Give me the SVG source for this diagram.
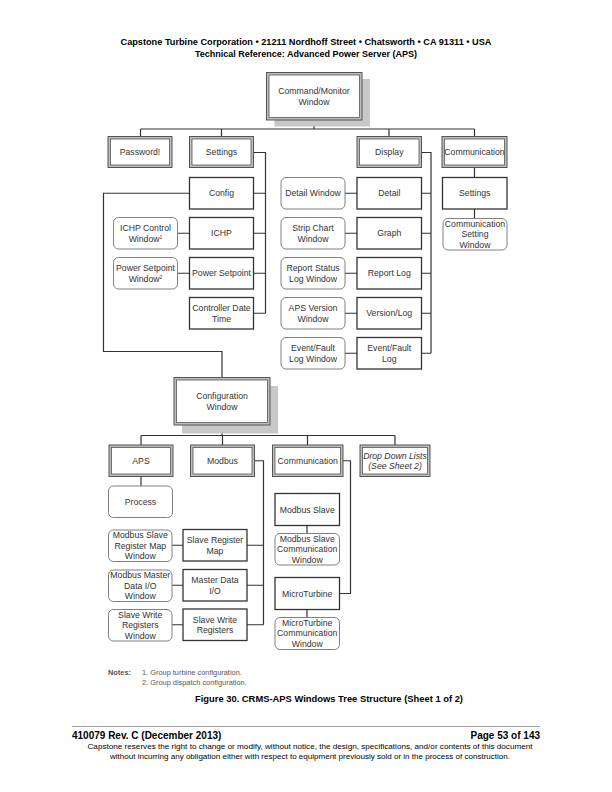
<svg xmlns="http://www.w3.org/2000/svg" width="612" height="792" viewBox="0 0 612 792">
<style>
.t{font-family:"Liberation Sans",Arial,sans-serif;font-size:8.7px;fill:#333;text-anchor:middle}
.ti{font-style:italic}
.h{font-family:"Liberation Sans",Arial,sans-serif;font-weight:bold;fill:#000;text-anchor:middle}
.ln{stroke:#333;stroke-width:1.2;fill:none}
.dbo{fill:#bdbdbd;stroke:#555;stroke-width:1}
.dbi{fill:#fff;stroke:#555;stroke-width:0.8}
.pl{fill:#fff;stroke:#333;stroke-width:1.3}
.rw{fill:#fff;stroke:#808080;stroke-width:1}
.sh{fill:#c8c8c8}
.n{font-family:"Liberation Sans",Arial,sans-serif;font-size:7.4px;fill:#555}
</style>
<rect width="612" height="792" fill="#fff"/>
<text class="h" x="306" y="45" font-size="9" textLength="371" lengthAdjust="spacingAndGlyphs">Capstone Turbine Corporation • 21211 Nordhoff Street • Chatsworth • CA 91311 • USA</text>
<text class="h" x="306" y="56.5" font-size="9" textLength="222" lengthAdjust="spacingAndGlyphs">Technical Reference: Advanced Power Server (APS)</text>

<g id="connectors">
<path class="ln" d="M314,120V129M140.5,129H474.5M140.5,129V136.5M221.5,129V136.5M389,129V136.5M474.5,129V136.5"/>
<path class="ln" d="M253.5,152.5H265.5V313.25M253.5,193.25H265.5M253.5,233.25H265.5M253.5,273.25H265.5M253.5,313.25H265.5"/>
<path class="ln" d="M189.5,193.25H103.5V351.5H222V377.5"/>
<path class="ln" d="M177.5,233.25H189.5M177.5,273.25H189.5"/>
<path class="ln" d="M421.5,152.5H431V353.25M421.5,193.25H431M421.5,233.25H431M421.5,273.25H431M421.5,313.25H431M421.5,353.25H431"/>
<path class="ln" d="M345,193.25H357M345,233.25H357M345,273.25H357M345,313.25H357M345,353.25H357"/>
<path class="ln" d="M474.5,167.5V177.5M474.5,209V218.5"/>
<path class="ln" d="M222,425V435.5M141,435.5H395M141,435.5V445M222.5,435.5V445M307.5,435.5V445M395,435.5V445"/>
<path class="ln" d="M141,476.5V486"/>
<path class="ln" d="M254,460.75H263.5V624.75M247,545.25H263.5M247,585.25H263.5M247,624.75H263.5"/>
<path class="ln" d="M172,545.25H183M172,585.25H183M172,624.75H183"/>
<path class="ln" d="M343,460.75H350.5V593.5H339.5"/>
<path class="ln" d="M307,525.5V533.5M307,609.5V617.5"/>
</g>

<g id="command-monitor-window">
<rect class="sh" x="274.5" y="79" width="95.5" height="47.5"/>
<rect class="dbo" x="266.5" y="72.5" width="95.5" height="47.5"/>
<rect class="dbi" x="269" y="75" width="90.5" height="42.5"/>
<text class="t" x="314" y="93.5">Command/Monitor</text>
<text class="t" x="314" y="104.5">Window</text>
</g>

<g id="password">
<rect class="dbo" x="108" y="136.5" width="64" height="31"/>
<rect class="dbi" x="110.5" y="139" width="59" height="26"/>
<text class="t" x="140" y="155">Password!</text>
</g>
<g id="settings">
<rect class="dbo" x="189.5" y="136.5" width="64" height="31"/>
<rect class="dbi" x="192" y="139" width="59" height="26"/>
<text class="t" x="221.5" y="155">Settings</text>
</g>
<g id="display">
<rect class="dbo" x="357" y="136.5" width="64.5" height="31"/>
<rect class="dbi" x="359.5" y="139" width="59.5" height="26"/>
<text class="t" x="389.25" y="155">Display</text>
</g>
<g id="communication">
<rect class="dbo" x="442" y="136.5" width="65" height="31"/>
<rect class="dbi" x="444.5" y="139" width="60" height="26"/>
<text class="t" x="474.5" y="155">Communication</text>
</g>

<g id="config">
<rect class="pl" x="189.5" y="177.5" width="64" height="31.5"/>
<text class="t" x="221.5" y="196.25">Config</text>
</g>
<g id="ichp">
<rect class="pl" x="189.5" y="217.5" width="64" height="31.5"/>
<text class="t" x="221.5" y="236.25">ICHP</text>
</g>
<g id="power-setpoint">
<rect class="pl" x="189.5" y="257.5" width="64" height="31.5"/>
<text class="t" x="221.5" y="276.25">Power Setpoint</text>
</g>
<g id="controller-date-time">
<rect class="pl" x="189.5" y="297.5" width="64" height="31.5"/>
<text class="t" x="221.5" y="311">Controller Date</text>
<text class="t" x="221.5" y="321.75">Time</text>
</g>
<g id="ichp-control-window">
<rect class="rw" x="113.5" y="217.5" width="64" height="31.5" rx="5"/>
<text class="t" x="145.5" y="231">ICHP Control</text>
<text class="t" x="145.5" y="241.75">Window<tspan dy="-3" font-size="5">1</tspan></text>
</g>
<g id="power-setpoint-window">
<rect class="rw" x="113.5" y="257.5" width="64" height="31.5" rx="5"/>
<text class="t" x="145.5" y="271">Power Setpoint</text>
<text class="t" x="145.5" y="281.75">Window<tspan dy="-3" font-size="5">2</tspan></text>
</g>

<g id="detail">
<rect class="pl" x="357" y="177.5" width="64.5" height="31.5"/>
<text class="t" x="389.25" y="196.25">Detail</text>
</g>
<g id="graph">
<rect class="pl" x="357" y="217.5" width="64.5" height="31.5"/>
<text class="t" x="389.25" y="236.25">Graph</text>
</g>
<g id="report-log">
<rect class="pl" x="357" y="257.5" width="64.5" height="31.5"/>
<text class="t" x="389.25" y="276.25">Report Log</text>
</g>
<g id="version-log">
<rect class="pl" x="357" y="297.5" width="64.5" height="31.5"/>
<text class="t" x="389.25" y="316.25">Version/Log</text>
</g>
<g id="event-fault-log">
<rect class="pl" x="357" y="337.5" width="64.5" height="31.5"/>
<text class="t" x="389.25" y="351">Event/Fault</text>
<text class="t" x="389.25" y="361.75">Log</text>
</g>
<g id="detail-window">
<rect class="rw" x="281" y="177.5" width="64" height="31.5" rx="5"/>
<text class="t" x="313" y="196.25">Detail Window</text>
</g>
<g id="strip-chart-window">
<rect class="rw" x="281" y="217.5" width="64" height="31.5" rx="5"/>
<text class="t" x="313" y="231">Strip Chart</text>
<text class="t" x="313" y="241.75">Window</text>
</g>
<g id="report-status-log-window">
<rect class="rw" x="281" y="257.5" width="64" height="31.5" rx="5"/>
<text class="t" x="313" y="271">Report Status</text>
<text class="t" x="313" y="281.75">Log Window</text>
</g>
<g id="aps-version-window">
<rect class="rw" x="281" y="297.5" width="64" height="31.5" rx="5"/>
<text class="t" x="313" y="311">APS Version</text>
<text class="t" x="313" y="321.75">Window</text>
</g>
<g id="event-fault-log-window">
<rect class="rw" x="281" y="337.5" width="64" height="31.5" rx="5"/>
<text class="t" x="313" y="351">Event/Fault</text>
<text class="t" x="313" y="361.75">Log Window</text>
</g>

<g id="comm-settings">
<rect class="pl" x="442.5" y="177.5" width="64.5" height="31.5"/>
<text class="t" x="474.75" y="196.25">Settings</text>
</g>
<g id="communication-setting-window">
<rect class="rw" x="443" y="218.5" width="64" height="31.5" rx="5"/>
<text class="t" x="475" y="226.5">Communication</text>
<text class="t" x="475" y="237">Setting</text>
<text class="t" x="475" y="247.5">Window</text>
</g>

<g id="configuration-window">
<rect class="sh" x="182" y="386" width="96" height="47.5"/>
<rect class="dbo" x="174" y="377.5" width="96" height="47.5"/>
<rect class="dbi" x="176.5" y="380" width="91" height="42.5"/>
<text class="t" x="222" y="398.5">Configuration</text>
<text class="t" x="222" y="409.5">Window</text>
</g>

<g id="aps">
<rect class="dbo" x="109" y="445" width="64" height="31.5"/>
<rect class="dbi" x="111.5" y="447.5" width="59" height="26.5"/>
<text class="t" x="141" y="463.75">APS</text>
</g>
<g id="modbus">
<rect class="dbo" x="190.5" y="445" width="64" height="31.5"/>
<rect class="dbi" x="193" y="447.5" width="59" height="26.5"/>
<text class="t" x="222.5" y="463.75">Modbus</text>
</g>
<g id="config-communication">
<rect class="dbo" x="272.5" y="445" width="70.5" height="31.5"/>
<rect class="dbi" x="275" y="447.5" width="65.5" height="26.5"/>
<text class="t" x="307.75" y="463.75">Communication</text>
</g>
<g id="drop-down-lists">
<rect class="dbo" x="360" y="445" width="70" height="31.5"/>
<rect class="dbi" x="362.5" y="447.5" width="65" height="26.5"/>
<text class="t ti" x="395" y="458.5">Drop Down Lists</text>
<text class="t ti" x="395" y="469.25">(See Sheet 2)</text>
</g>

<g id="process">
<rect class="rw" x="108.5" y="486" width="64" height="31.5" rx="5"/>
<text class="t" x="140.5" y="504.75">Process</text>
</g>
<g id="slave-register-map">
<rect class="pl" x="183" y="529.5" width="64" height="31.5"/>
<text class="t" x="215" y="543">Slave Register</text>
<text class="t" x="215" y="553.75">Map</text>
</g>
<g id="master-data-io">
<rect class="pl" x="183" y="569.5" width="64" height="31.5"/>
<text class="t" x="215" y="583">Master Data</text>
<text class="t" x="215" y="593.75">I/O</text>
</g>
<g id="slave-write-registers">
<rect class="pl" x="183" y="609" width="64" height="31.5"/>
<text class="t" x="215" y="622.5">Slave Write</text>
<text class="t" x="215" y="633.25">Registers</text>
</g>
<g id="modbus-slave-register-map-window">
<rect class="rw" x="108.5" y="530" width="63.5" height="31.5" rx="5"/>
<text class="t" x="140.25" y="538">Modbus Slave</text>
<text class="t" x="140.25" y="548.5">Register Map</text>
<text class="t" x="140.25" y="559">Window</text>
</g>
<g id="modbus-master-data-io-window">
<rect class="rw" x="108.5" y="570" width="63.5" height="31.5" rx="5"/>
<text class="t" x="140.25" y="578">Modbus Master</text>
<text class="t" x="140.25" y="588.5">Data I/O</text>
<text class="t" x="140.25" y="599">Window</text>
</g>
<g id="slave-write-registers-window">
<rect class="rw" x="108.5" y="609.5" width="63.5" height="31.5" rx="5"/>
<text class="t" x="140.25" y="617.5">Slave Write</text>
<text class="t" x="140.25" y="628">Registers</text>
<text class="t" x="140.25" y="638.5">Window</text>
</g>

<g id="modbus-slave">
<rect class="pl" x="275" y="493.5" width="64.5" height="32"/>
<text class="t" x="307.25" y="512.5">Modbus Slave</text>
</g>
<g id="modbus-slave-communication-window">
<rect class="rw" x="275" y="533.5" width="64.5" height="31.5" rx="5"/>
<text class="t" x="307.25" y="541.5">Modbus Slave</text>
<text class="t" x="307.25" y="552">Communication</text>
<text class="t" x="307.25" y="562.5">Window</text>
</g>
<g id="microturbine">
<rect class="pl" x="275" y="577.5" width="64.5" height="32"/>
<text class="t" x="307.25" y="596.5">MicroTurbine</text>
</g>
<g id="microturbine-communication-window">
<rect class="rw" x="275" y="617.5" width="64.5" height="32" rx="5"/>
<text class="t" x="307.25" y="625.75">MicroTurbine</text>
<text class="t" x="307.25" y="636.25">Communication</text>
<text class="t" x="307.25" y="646.75">Window</text>
</g>

<text class="n" x="108" y="675" font-weight="bold" fill="#333">Notes:</text>
<text class="n" x="142" y="675">1. Group turbine configuration.</text>
<text class="n" x="142" y="685">2. Group dispatch configuration.</text>

<text class="h" x="329" y="702" font-size="9.6" textLength="268" lengthAdjust="spacingAndGlyphs">Figure 30. CRMS-APS Windows Tree Structure (Sheet 1 of 2)</text>

<line x1="72" y1="726.5" x2="540" y2="726.5" stroke="#888" stroke-width="0.8"/>
<text x="72" y="738.5" font-family="Liberation Sans,Arial,sans-serif" font-weight="bold" font-size="10" fill="#000">410079 Rev. C (December 2013)</text>
<text x="540" y="738.5" font-family="Liberation Sans,Arial,sans-serif" font-weight="bold" font-size="10" fill="#000" text-anchor="end">Page 53 of 143</text>
<text x="310" y="748.5" font-family="Liberation Sans,Arial,sans-serif" font-size="7.2" fill="#000" text-anchor="middle" textLength="445" lengthAdjust="spacingAndGlyphs">Capstone reserves the right to change or modify, without notice, the design, specifications, and/or contents of this document</text>
<text x="310" y="758.5" font-family="Liberation Sans,Arial,sans-serif" font-size="7.2" fill="#000" text-anchor="middle" textLength="400" lengthAdjust="spacingAndGlyphs">without incurring any obligation either with respect to equipment previously sold or in the process of construction.</text>
</svg>
